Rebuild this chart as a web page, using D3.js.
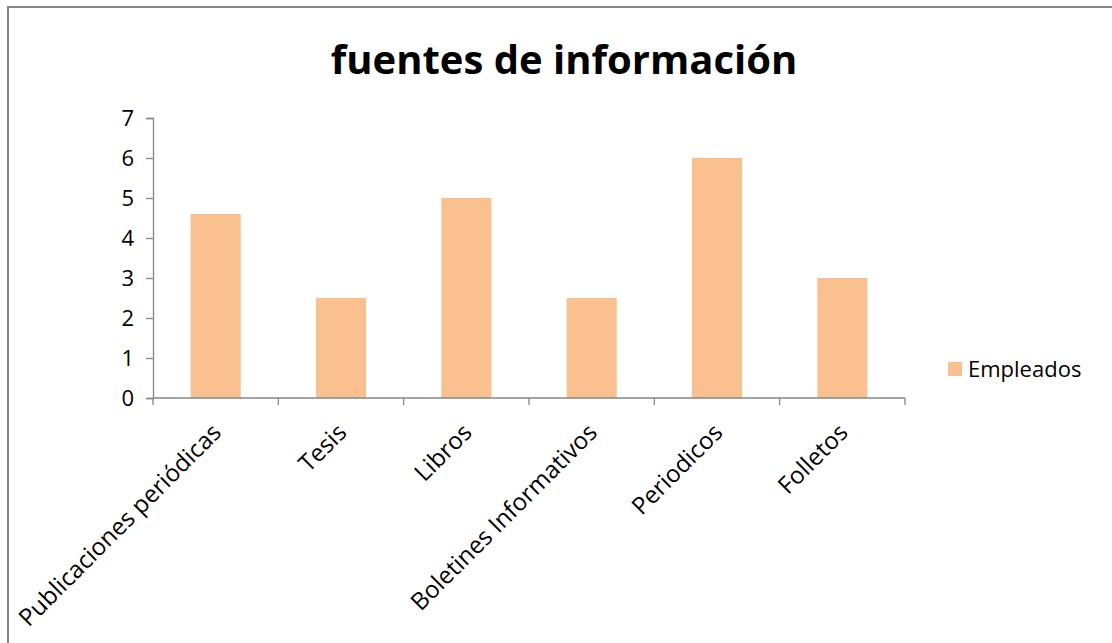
<!doctype html>
<html lang="es">
<head>
<meta charset="UTF-8">
<title>fuentes de información</title>
<style>
    body { margin: 0; background: #fff; }
    svg { display: block; font-family: "Open Sans", "Noto Sans", sans-serif; }
    .axis path, .axis line { stroke: #868686; stroke-width: 1.3px; }
    .axis text { fill: #000; font-size: 22px; font-family: "Open Sans", "Noto Sans", sans-serif; }
</style>
</head>
<body>
<svg width="1112" height="643"></svg>
<script src="https://d3js.org/d3.v7.min.js"></script>
<script>
// datos
const categorias = ["Publicaciones periódicas", "Tesis", "Libros", "Boletines Informativos", "Periodicos", "Folletos"];
const empleados = [4.6, 2.5, 5, 2.5, 6, 3];
const yTicks = [0, 1, 2, 3, 4, 5, 6, 7];
const serie = "Empleados";
const titulo = "fuentes de información";

const svg = d3.select("svg");

// marco
svg.append("rect")
    .attr("x", 8).attr("y", 7)
    .attr("width", 1130).attr("height", 660)
    .attr("fill", "none")
    .attr("stroke", "#868686")
    .attr("stroke-width", 2);

svg.append("text")
    .attr("x", 564).attr("y", 74)
    .attr("text-anchor", "middle")
    .attr("font-size", 40)
    .attr("font-weight", "bold")
    .text(titulo);

const x = d3.scaleBand().domain(categorias).range([153, 905]).paddingInner(0.6).paddingOuter(0.3);
const y = d3.scaleLinear().domain([0, 7]).range([398, 118]);

// ejes
const yAxis = svg.append("g")
    .attr("class", "axis")
    .attr("transform", "translate(153,0)")
    .call(d3.axisLeft(y).tickValues(yTicks).tickFormat(d3.format("d")).tickSize(7).tickPadding(12));
yAxis.selectAll("text").attr("dy", "0.35em");

// barras
svg.selectAll(".bar")
    .data(empleados)
    .enter()
    .append("rect")
    .attr("class", "bar")
    .attr("x", (d, i) => x(categorias[i]))
    .attr("y", d => y(d))
    .attr("width", x.bandwidth())
    .attr("height", d => y(0) - y(d))
    .attr("fill", "#fac08f");

// eje x con marcas entre categorías
const xb = d3.scaleLinear().domain([0, categorias.length]).range([153, 905]);
const xAxis = svg.append("g")
    .attr("class", "axis")
    .attr("transform", "translate(0,398)");
xAxis.append("line").attr("x1", 153).attr("x2", 905).attr("y1", 0).attr("y2", 0);
xAxis.selectAll(".tick")
    .data(d3.range(categorias.length + 1))
    .enter()
    .append("line")
    .attr("x1", d => xb(d)).attr("x2", d => xb(d))
    .attr("y1", 0).attr("y2", 7);

xAxis.selectAll(".lbl")
    .data(categorias)
    .enter()
    .append("text")
    .attr("text-anchor", "end")
    .style("font-size", "24px")
    .attr("transform", (d, i) => `translate(${xb(i + 0.5) + 7},${36}) rotate(-45)`)
    .text(d => d);

// leyenda
const leg = svg.append("g").attr("transform", "translate(948,362)");
leg.append("rect").attr("width", 14).attr("height", 14).attr("fill", "#fac08f");
leg.append("text").attr("x", 20).attr("y", 7).attr("dy", "0.35em")
    .attr("font-size", 22).text(serie);
</script>
</body>
</html>
